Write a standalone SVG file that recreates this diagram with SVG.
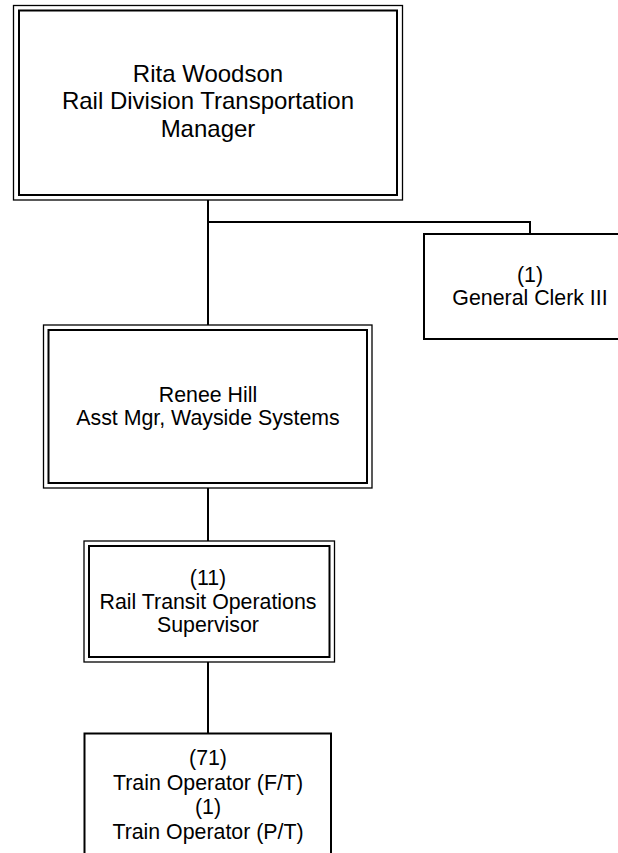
<svg xmlns="http://www.w3.org/2000/svg" width="618" height="853" viewBox="0 0 618 853">
<style>
.bg{fill:#fff}
.outer{fill:#fff;stroke:#000;stroke-width:1.3}
.inner{fill:none;stroke:#000;stroke-width:2}
.box{fill:#fff;stroke:#000;stroke-width:2}
.conn{fill:none;stroke:#000;stroke-width:2}
text{font-family:"Liberation Sans",Arial,sans-serif;fill:#000;text-anchor:middle}
.big{font-size:24px}
.med{font-size:21.33px}
</style>
<rect class="bg" x="0" y="0" width="618" height="853"/>
<g id="connectors">
<path class="conn" d="M208,200 V325"/>
<path class="conn" d="M208,222 H530 V234"/>
<path class="conn" d="M208,488 V541"/>
<path class="conn" d="M208,662 V733"/>
</g>
<g id="rita">
<rect class="outer" x="13.5" y="5.5" width="389" height="194.5"/>
<rect class="inner" x="19" y="10.5" width="378" height="184.5"/>
<text class="big" x="208" y="81.5">Rita Woodson</text>
<text class="big" x="208" y="109">Rail Division Transportation</text>
<text class="big" x="208" y="136.5">Manager</text>
</g>
<g id="clerk">
<rect class="box" x="424" y="234" width="212" height="105"/>
<text class="med" x="530" y="281.5">(1)</text>
<text class="med" x="530" y="305">General Clerk III</text>
</g>
<g id="renee">
<rect class="outer" x="43.5" y="325" width="328.5" height="163"/>
<rect class="inner" x="48.5" y="330" width="318.5" height="153"/>
<text class="med" x="208" y="401.5">Renee Hill</text>
<text class="med" x="208" y="425">Asst Mgr, Wayside Systems</text>
</g>
<g id="supervisor">
<rect class="outer" x="84" y="541" width="250.5" height="121"/>
<rect class="inner" x="89" y="546" width="240.5" height="111"/>
<text class="med" x="208" y="585">(11)</text>
<text class="med" x="208" y="609">Rail Transit Operations</text>
<text class="med" x="208" y="632">Supervisor</text>
</g>
<g id="operator">
<rect class="box" x="84.5" y="733.5" width="246.5" height="140"/>
<text class="med" x="208" y="765">(71)</text>
<text class="med" x="208" y="789.5">Train Operator (F/T)</text>
<text class="med" x="208" y="814">(1)</text>
<text class="med" x="208" y="839">Train Operator (P/T)</text>
</g>
</svg>
